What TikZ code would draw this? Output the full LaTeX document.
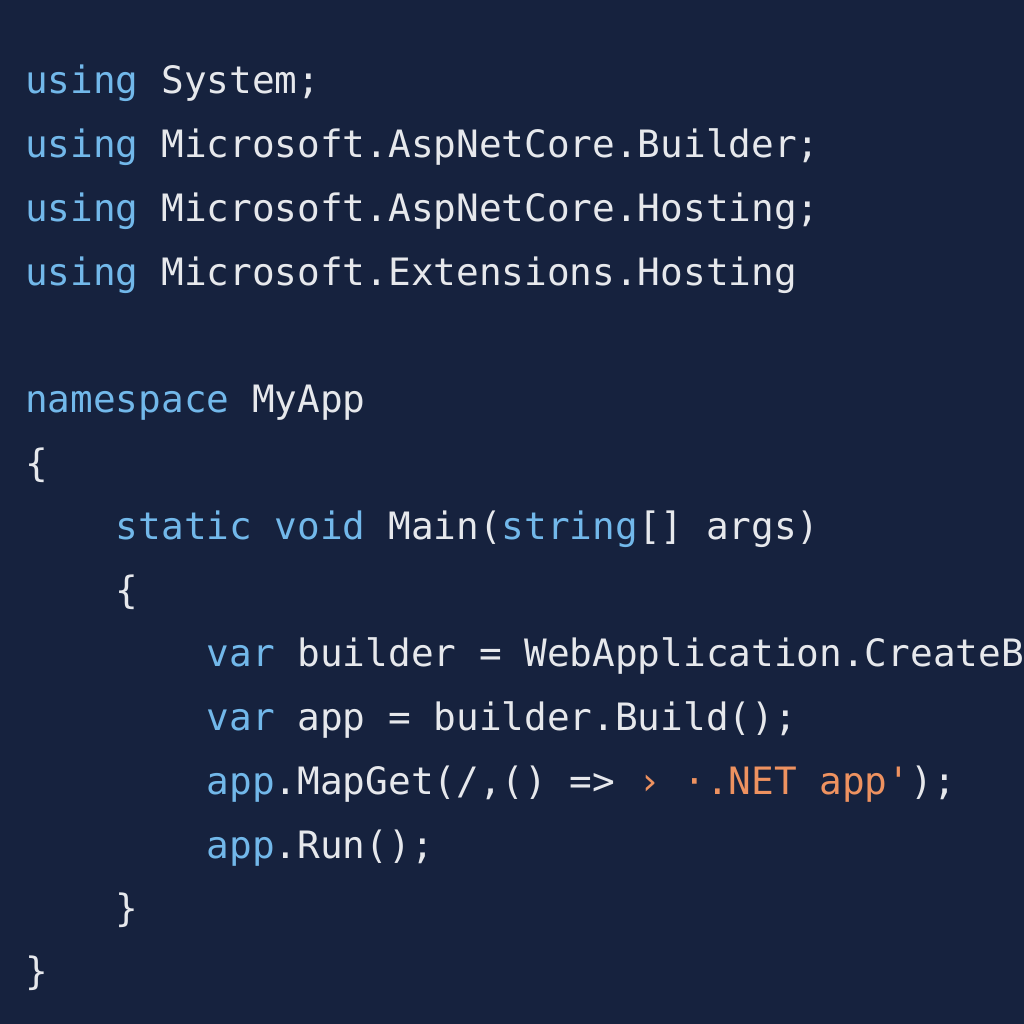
\documentclass[tikz,border=0pt]{standalone}
\usepackage{fontspec}
\setmonofont{DejaVu Sans Mono}
\definecolor{bg}{HTML}{16223E}
\definecolor{kw}{HTML}{72B8EA}
\definecolor{tx}{HTML}{E6E8EC}
\definecolor{st}{HTML}{EE9260}
\newcommand{\K}[1]{\textcolor{kw}{#1}}
\newcommand{\Sx}[1]{\textcolor{st}{#1}}
\begin{document}
\begin{tikzpicture}[x=1pt,y=1pt,
  codeline/.style={anchor=base west,inner sep=0pt,text=tx,font=\ttfamily\fontsize{37.7}{40}\selectfont}]
\fill[bg] (0,0) rectangle (1024,-1024);
\useasboundingbox (0,0) rectangle (1024,-1024);
\node[codeline] (l1) at (25,-94) {\K{using} System;};
\node[codeline] (l2) at (25,-158) {\K{using} Microsoft.AspNetCore.Builder;};
\node[codeline] (l3) at (25,-222) {\K{using} Microsoft.AspNetCore.Hosting;};
\node[codeline] (l4) at (25,-285) {\K{using} Microsoft.Extensions.Hosting};
\node[codeline] (l5) at (25,-412) {\K{namespace} MyApp};
\node[codeline] (l6) at (25,-476) {\{};
\node[codeline] (l7) at (25,-539) {\hspace*{2.408em}\K{static} \K{void} Main(\K{string}[] args)};
\node[codeline] (l8) at (25,-603) {\hspace*{2.408em}\{};
\node[codeline] (l9) at (25,-666) {\hspace*{4.816em}\K{var} builder = WebApplication.CreateB};
\node[codeline] (l10) at (25,-730) {\hspace*{4.816em}\K{var} app = builder.Build();};
\node[codeline] (l11) at (25,-794) {\hspace*{4.816em}\K{app}.MapGet(/,() => \Sx{› ·.NET app'});};
\node[codeline] (l12) at (25,-858) {\hspace*{4.816em}\K{app}.Run();};
\node[codeline] (l13) at (25,-921) {\hspace*{2.408em}\}};
\node[codeline] (l14) at (25,-984) {\}};
\end{tikzpicture}
\end{document}
